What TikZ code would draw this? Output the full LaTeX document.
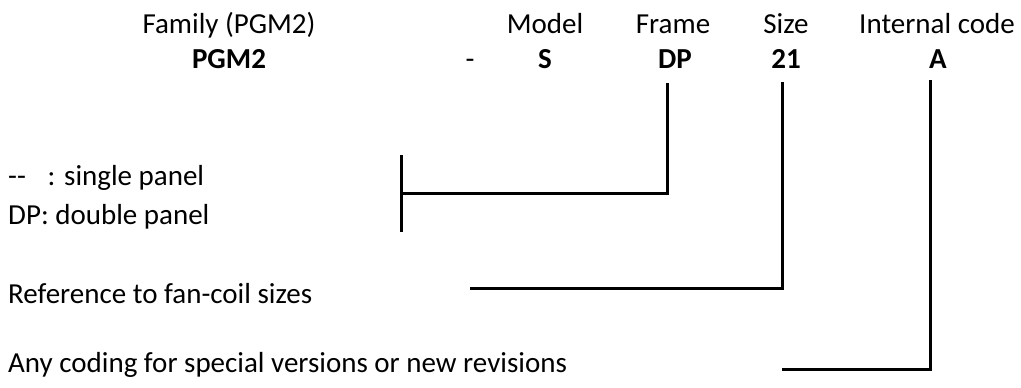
\documentclass[tikz,border=0pt]{standalone}
\usepackage{fontspec}
\setmainfont{Carlito}

\begin{document}
\begin{tikzpicture}[
  x=1pt, y=-1pt,
  fieldname/.style={
    anchor=base, inner sep=0pt,
    font=\fontsize{29}{34}\selectfont
  },
  fieldcode/.style={fieldname, font=\fontsize{29}{34}\selectfont\bfseries},
  legend/.style={anchor=base west, inner sep=0pt, font=\fontsize{29}{34}\selectfont},
  leader/.style={line width=3pt, draw=black}
]
\useasboundingbox (0,0) rectangle (1021,388);

% header row
\node[fieldname] (fam)  at (229,33) {Family (PGM2)};
\node[fieldname] (mod)  at (545,33) {Model};
\node[fieldname] (frm)  at (673,33) {Frame};
\node[fieldname] (siz)  at (786,33) {Size};
\node[fieldname] (int)  at (937,33) {Internal code};

% code row
\node[fieldcode] (c-fam) at (229,68) {PGM2};
\node[fieldname] (c-sep) at (470,68) {-};
\node[fieldcode] (c-mod) at (545,68) {S};
\node[fieldcode] (c-frm) at (675,68) {DP};
\node[fieldcode] (c-siz) at (786,68) {21};
\node[fieldcode] (c-int) at (938,68) {A};

% legends
\node[legend] (l-frm1) at (8,185) {{-}{-}\hspace{0.75em}: single panel};
\node[legend] (l-frm2) at (8,224) {DP: double panel};
\node[legend] (l-siz)  at (8,303) {Reference to fan-coil sizes};
\node[legend] (l-int)  at (8,372) {Any coding for special versions or new revisions};

% leader lines
\coordinate (frm-top) at (667,83);
\coordinate (siz-top) at (782,82);
\coordinate (int-top) at (930,80);
\coordinate (bar-top) at (401,155);
\coordinate (bar-bot) at (401,232);
\coordinate (frm-end) at (401,193);
\coordinate (siz-end) at (470,288);
\coordinate (int-end) at (782,369);

\draw[leader] (bar-top) -- (bar-bot);
\draw[leader] (frm-top) |- (frm-end);
\draw[leader] (siz-top) |- (siz-end);
\draw[leader] (int-top) |- (int-end);
\end{tikzpicture}
\end{document}
